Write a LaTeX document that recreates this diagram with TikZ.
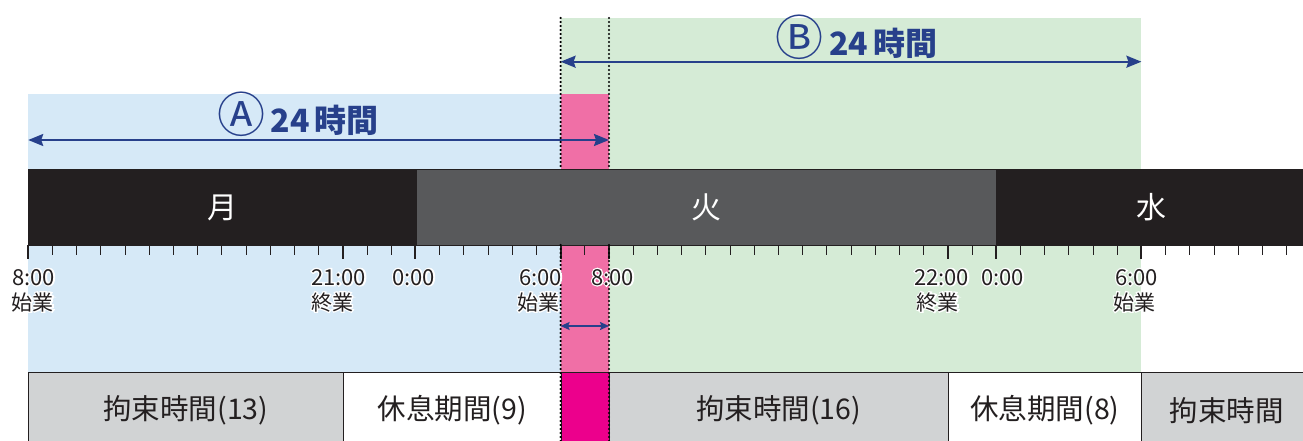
\documentclass[tikz,border=0pt]{standalone}
\usepackage{fontspec}
\setmainfont{Noto Sans CJK JP}
\newfontfamily\halofont{Noto Sans CJK JP}[FakeBold=12]
\usetikzlibrary{arrows.meta}
\definecolor{bluebg}{HTML}{D6E9F7}
\definecolor{greenbg}{HTML}{D5EBD6}
\definecolor{pinkbg}{HTML}{F06FA6}
\definecolor{magentabox}{HTML}{EC008C}
\definecolor{barblack}{HTML}{231F20}
\definecolor{bargray}{HTML}{58595B}
\definecolor{boxgray}{HTML}{D1D3D4}
\definecolor{arrowblue}{HTML}{27408B}
\definecolor{inkcol}{HTML}{231F20}
\newcommand\halotext[1]{\makebox[0pt][l]{\color{white}\halofont #1}#1}
\begin{document}
\begin{tikzpicture}[x=1pt,y=-1pt,
  daybox/.style={anchor=north west,inner sep=0pt,minimum height=76pt,draw=barblack,line width=1.2pt,text=white,font=\fontsize{30}{32}\selectfont},
  rowbox/.style={anchor=north west,inner sep=0pt,minimum height=76pt,draw=inkcol,line width=0.8pt,text=inkcol,font=\fontsize{28.5}{30}\selectfont},
  timelab/.style={anchor=base west,inner sep=0pt,text=inkcol,font=\fontsize{22}{24}\selectfont},
  sublab/.style={anchor=base west,inner sep=0pt,text=inkcol,font=\fontsize{21}{24}\selectfont},
  titlelab/.style={inner sep=0pt,text=arrowblue,font=\fontsize{32}{36}\selectfont\bfseries},
  bluearrow/.style={draw=arrowblue,line width=2pt,{Stealth[length=15pt,width=12pt,inset=2pt]}-{Stealth[length=15pt,width=12pt,inset=2pt]}},
  smallarrow/.style={draw=arrowblue,line width=1.6pt,{Stealth[length=9pt,width=8pt,inset=1.5pt]}-{Stealth[length=9pt,width=8pt,inset=1.5pt]}},
  dotline/.style={draw=black,line width=2.4pt,line cap=round,dash pattern=on 0pt off 4pt},
  minortick/.style={draw=inkcol,line width=0.9pt},
  majortick/.style={draw=inkcol,line width=2pt}
]
\useasboundingbox (0,0) rectangle (1303,441);
% backgrounds
\fill[bluebg] (28.2,94) rectangle (560.6,372);
\fill[greenbg] (560.6,18) rectangle (1141.4,372);
\fill[pinkbg] (560.6,94) rectangle (609,372);
% day bar
\node[daybox,fill=barblack,minimum width=387.2pt] (mon) at (28.2,169) {月};
\node[daybox,fill=bargray,minimum width=580.8pt] (tue) at (415.4,169) {火};
\node[daybox,fill=barblack,minimum width=310pt] (wed) at (996.2,169) {水};
% ticks
\foreach \h in {0,...,52} \draw[minortick] ({28.2+24.2*\h},245) -- ++(0,10);
\foreach \h in {0,13,16,22,24,38,40,46} \draw[majortick] ({28.2+24.2*\h},245) -- ++(0,14);
% bottom row
\node[rowbox,fill=boxgray,minimum width=314.6pt] (r1) at (28.2,372) {拘束時間(13)};
\node[rowbox,fill=white,minimum width=217.8pt] (r2) at (342.8,372) {休息期間(9)};
\node[rowbox,fill=magentabox,minimum width=48.4pt] (r3) at (560.6,372) {};
\node[rowbox,fill=boxgray,minimum width=338.8pt] (r4) at (609,372) {拘束時間(16)};
\node[rowbox,fill=white,minimum width=193.6pt] (r5) at (947.8,372) {休息期間(8)};
\node[rowbox,fill=boxgray,minimum width=170pt] (r6) at (1141.4,372) {拘束時間};
% dotted lines (hidden behind the day bar)
\coordinate (d1t) at (560.6,18); \coordinate (d1m) at (560.6,169);
\coordinate (d1n) at (560.6,245); \coordinate (d1b) at (560.6,441);
\coordinate (d2t) at (609,18); \coordinate (d2m) at (609,169);
\coordinate (d2n) at (609,245); \coordinate (d2b) at (609,441);
\draw[dotline] (d1t) -- (d1m);
\draw[dotline] (d1n) -- (d1b);
\draw[dotline] (d2t) -- (d2m);
\draw[dotline] (d2n) -- (d2b);
% time labels (white halo)
\node[timelab] (t1) at (12,285) {\halotext{8:00}};
\node[timelab] (t2) at (311,285) {\halotext{21:00}};
\node[timelab] (t3) at (392,285) {\halotext{0:00}};
\node[timelab] (t4) at (519,285) {\halotext{6:00}};
\node[timelab] (t5) at (591,285) {\halotext{8:00}};
\node[timelab] (t6) at (914,285) {\halotext{22:00}};
\node[timelab] (t7) at (981,285) {\halotext{0:00}};
\node[timelab] (t8) at (1115,285) {\halotext{6:00}};
\node[sublab] (s1) at (11.6,310) {\halotext{始業}};
\node[sublab] (s2) at (311,310) {\halotext{終業}};
\node[sublab] (s3) at (517,310) {\halotext{始業}};
\node[sublab] (s4) at (916.6,310) {\halotext{終業}};
\node[sublab] (s5) at (1113,310) {\halotext{始業}};
% arrows
\coordinate (aL) at (28.2,140); \coordinate (aR) at (609,140);
\draw[bluearrow] (aL) -- (aR);
\coordinate (bL) at (560.6,61.7); \coordinate (bR) at (1141.4,61.7);
\draw[bluearrow] (bL) -- (bR);
\coordinate (cL) at (560.6,326); \coordinate (cR) at (609,326);
\draw[smallarrow] (cL) -- (cR);
% titles
\node[titlelab] (tA) at (298,114) {{\mdseries\fontsize{48}{48}\selectfont Ⓐ}\,24\,時間};
\node[titlelab] (tB) at (856.5,37.6) {{\mdseries\fontsize{48}{48}\selectfont Ⓑ}\,24\,時間};
\end{tikzpicture}
\end{document}
